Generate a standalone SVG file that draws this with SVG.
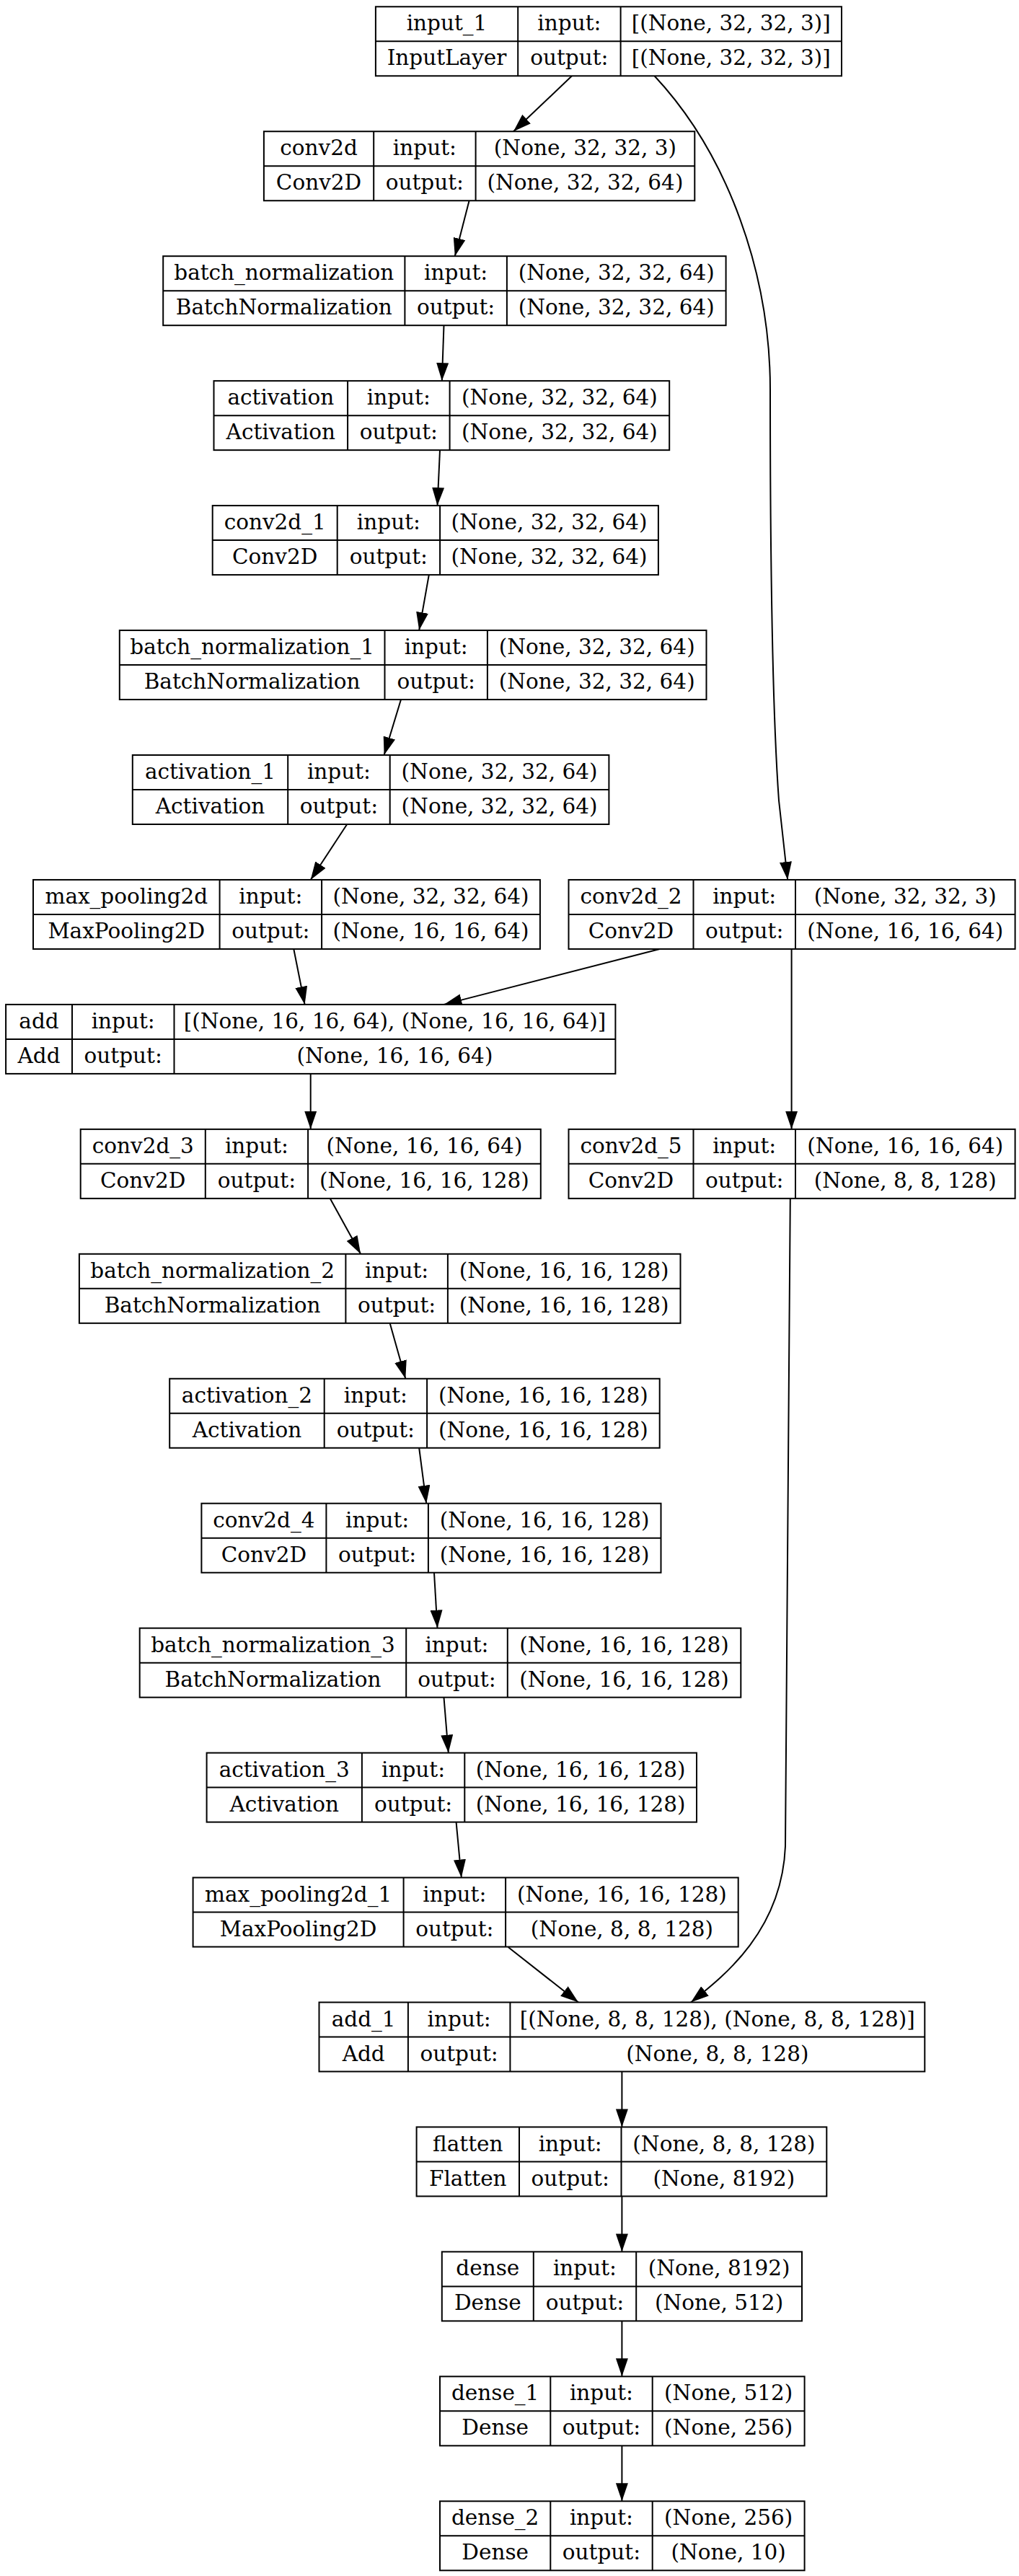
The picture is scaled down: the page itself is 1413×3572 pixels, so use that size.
<svg xmlns="http://www.w3.org/2000/svg" width="1413" height="3572" viewBox="0 0 1413 3572">
<style>
.b{fill:#fff;stroke:#000;stroke-width:2}
.l{stroke:#000;stroke-width:2;fill:none}
text{font-family:"DejaVu Serif","Liberation Serif",serif;font-size:29.5px;text-anchor:middle;fill:#000}
.e{fill:none;stroke:#000;stroke-width:2;marker-end:url(#ah)}
</style>
<defs>
<marker id="ah" markerUnits="userSpaceOnUse" viewBox="0 0 25 17" refX="25" refY="8.5" markerWidth="25" markerHeight="17" orient="auto">
<path d="M0,0 L25,8.5 L0,17 z" fill="#000"/>
</marker>
</defs>
<rect width="1413" height="3572" fill="#fff"/>
<g id="connectors">
<path class="e" d="M793,105.3 L712,182.3"/>
<path class="e" d="M907.5,105.3 C1010,215 1068,380 1068,540 C1068,800 1072,1000 1080,1110 L1092.2,1220"/>
<path class="e" d="M650.6,278.3 L630.8,355.2"/>
<path class="e" d="M615.5,451.2 L612.8,528.2"/>
<path class="e" d="M610,624.2 L606.5,701.1"/>
<path class="e" d="M594.8,797.1 L581.2,874"/>
<path class="e" d="M556,970 L532.6,1047"/>
<path class="e" d="M481.2,1143 L430.7,1220"/>
<path class="e" d="M407.3,1316 L422.6,1392.9"/>
<path class="e" d="M914.7,1316 L615.5,1392.9"/>
<path class="e" d="M1097.6,1316 L1097.6,1565.8"/>
<path class="e" d="M430.7,1489 L430.7,1565.8"/>
<path class="e" d="M457.8,1662 L500.1,1738.8"/>
<path class="e" d="M540.7,1835 L562.3,1911.7"/>
<path class="e" d="M581.2,2008 L591.2,2084.7"/>
<path class="e" d="M602,2181 L606.5,2257.6"/>
<path class="e" d="M615.5,2354 L621.8,2430.6"/>
<path class="e" d="M632.6,2527 L639.8,2603.5"/>
<path class="e" d="M704.7,2700 L802,2776.5"/>
<path class="e" d="M1095.8,1662 C1095,2100 1093,2400 1089,2560 C1084,2680 1000,2743 958,2776.5"/>
<path class="e" d="M862.4,2872.5 L862.4,2949.4"/>
<path class="e" d="M862.4,3045.5 L862.4,3122.4"/>
<path class="e" d="M862.4,3218.4 L862.4,3295.3"/>
<path class="e" d="M862.4,3391.4 L862.4,3468.3"/>
</g>
<g id="input_1">
<rect class="b" x="520.9" y="9.3" width="646.1" height="96"/>
<path class="l" d="M520.9,57.3H1167M718.2,9.3V105.3M860.6,9.3V105.3"/>
<text x="619.55" y="42">input_1</text><text x="619.55" y="90">InputLayer</text>
<text x="789.4" y="42">input:</text><text x="789.4" y="90">output:</text>
<text x="1013.8" y="42">[(None, 32, 32, 3)]</text><text x="1013.8" y="90">[(None, 32, 32, 3)]</text>
</g>
<g id="conv2d">
<rect class="b" x="365.9" y="182.25" width="597.4" height="96"/>
<path class="l" d="M365.9,230.25H963.3M518.2,182.25V278.25M659.6,182.25V278.25"/>
<text x="442.05" y="215">conv2d</text><text x="442.05" y="263">Conv2D</text>
<text x="588.9" y="215">input:</text><text x="588.9" y="263">output:</text>
<text x="811.45" y="215">(None, 32, 32, 3)</text><text x="811.45" y="263">(None, 32, 32, 64)</text>
</g>
<g id="batch_normalization">
<rect class="b" x="226.2" y="355.2" width="780.4" height="96"/>
<path class="l" d="M226.2,403.2H1006.6M561.4,355.2V451.2M702.9,355.2V451.2"/>
<text x="393.8" y="388">batch_normalization</text><text x="393.8" y="436">BatchNormalization</text>
<text x="632.15" y="388">input:</text><text x="632.15" y="436">output:</text>
<text x="854.75" y="388">(None, 32, 32, 64)</text><text x="854.75" y="436">(None, 32, 32, 64)</text>
</g>
<g id="activation">
<rect class="b" x="296.5" y="528.15" width="631.7" height="96"/>
<path class="l" d="M296.5,576.15H928.2M482.1,528.15V624.15M623.6,528.15V624.15"/>
<text x="389.3" y="561">activation</text><text x="389.3" y="609">Activation</text>
<text x="552.85" y="561">input:</text><text x="552.85" y="609">output:</text>
<text x="775.9" y="561">(None, 32, 32, 64)</text><text x="775.9" y="609">(None, 32, 32, 64)</text>
</g>
<g id="conv2d_1">
<rect class="b" x="294.7" y="701.1" width="618.2" height="96"/>
<path class="l" d="M294.7,749.1H912.9M467.7,701.1V797.1M610.1,701.1V797.1"/>
<text x="381.2" y="734">conv2d_1</text><text x="381.2" y="782">Conv2D</text>
<text x="538.9" y="734">input:</text><text x="538.9" y="782">output:</text>
<text x="761.5" y="734">(None, 32, 32, 64)</text><text x="761.5" y="782">(None, 32, 32, 64)</text>
</g>
<g id="batch_normalization_1">
<rect class="b" x="165.8" y="874.05" width="813.7" height="96"/>
<path class="l" d="M165.8,922.05H979.5M533.5,874.05V970.05M675.9,874.05V970.05"/>
<text x="349.65" y="907">batch_normalization_1</text><text x="349.65" y="955">BatchNormalization</text>
<text x="604.7" y="907">input:</text><text x="604.7" y="955">output:</text>
<text x="827.7" y="907">(None, 32, 32, 64)</text><text x="827.7" y="955">(None, 32, 32, 64)</text>
</g>
<g id="activation_1">
<rect class="b" x="183.8" y="1047" width="660.6" height="96"/>
<path class="l" d="M183.8,1095H844.4M399.2,1047V1143M540.7,1047V1143"/>
<text x="291.5" y="1080">activation_1</text><text x="291.5" y="1128">Activation</text>
<text x="469.95" y="1080">input:</text><text x="469.95" y="1128">output:</text>
<text x="692.55" y="1080">(None, 32, 32, 64)</text><text x="692.55" y="1128">(None, 32, 32, 64)</text>
</g>
<g id="max_pooling2d">
<rect class="b" x="46" y="1219.95" width="702.9" height="96"/>
<path class="l" d="M46,1267.95H748.9M304.6,1219.95V1315.95M446.1,1219.95V1315.95"/>
<text x="175.3" y="1253">max_pooling2d</text><text x="175.3" y="1301">MaxPooling2D</text>
<text x="375.35" y="1253">input:</text><text x="375.35" y="1301">output:</text>
<text x="597.5" y="1253">(None, 32, 32, 64)</text><text x="597.5" y="1301">(None, 16, 16, 64)</text>
</g>
<g id="conv2d_2">
<rect class="b" x="788.5" y="1219.95" width="619.1" height="96"/>
<path class="l" d="M788.5,1267.95H1407.6M961.5,1219.95V1315.95M1103,1219.95V1315.95"/>
<text x="875" y="1253">conv2d_2</text><text x="875" y="1301">Conv2D</text>
<text x="1032.25" y="1253">input:</text><text x="1032.25" y="1301">output:</text>
<text x="1255.3" y="1253">(None, 32, 32, 3)</text><text x="1255.3" y="1301">(None, 16, 16, 64)</text>
</g>
<g id="add">
<rect class="b" x="8.1" y="1392.9" width="845.3" height="96"/>
<path class="l" d="M8.1,1440.9H853.4M100,1392.9V1488.9M241.5,1392.9V1488.9"/>
<text x="54.05" y="1426">add</text><text x="54.05" y="1474">Add</text>
<text x="170.75" y="1426">input:</text><text x="170.75" y="1474">output:</text>
<text x="547.45" y="1426">[(None, 16, 16, 64), (None, 16, 16, 64)]</text><text x="547.45" y="1474">(None, 16, 16, 64)</text>
</g>
<g id="conv2d_3">
<rect class="b" x="111.7" y="1565.85" width="638.1" height="96"/>
<path class="l" d="M111.7,1613.85H749.8M284.8,1565.85V1661.85M427.1,1565.85V1661.85"/>
<text x="198.25" y="1599">conv2d_3</text><text x="198.25" y="1647">Conv2D</text>
<text x="355.95" y="1599">input:</text><text x="355.95" y="1647">output:</text>
<text x="588.45" y="1599">(None, 16, 16, 64)</text><text x="588.45" y="1647">(None, 16, 16, 128)</text>
</g>
<g id="conv2d_5">
<rect class="b" x="788.5" y="1565.85" width="619.1" height="96"/>
<path class="l" d="M788.5,1613.85H1407.6M961.5,1565.85V1661.85M1103,1565.85V1661.85"/>
<text x="875" y="1599">conv2d_5</text><text x="875" y="1647">Conv2D</text>
<text x="1032.25" y="1599">input:</text><text x="1032.25" y="1647">output:</text>
<text x="1255.3" y="1599">(None, 16, 16, 64)</text><text x="1255.3" y="1647">(None, 8, 8, 128)</text>
</g>
<g id="batch_normalization_2">
<rect class="b" x="109.9" y="1738.8" width="833.6" height="96"/>
<path class="l" d="M109.9,1786.8H943.5M479.4,1738.8V1834.8M620.9,1738.8V1834.8"/>
<text x="294.65" y="1772">batch_normalization_2</text><text x="294.65" y="1820">BatchNormalization</text>
<text x="550.15" y="1772">input:</text><text x="550.15" y="1820">output:</text>
<text x="782.2" y="1772">(None, 16, 16, 128)</text><text x="782.2" y="1820">(None, 16, 16, 128)</text>
</g>
<g id="activation_2">
<rect class="b" x="235.2" y="1911.75" width="679.5" height="96"/>
<path class="l" d="M235.2,1959.75H914.7M449.7,1911.75V2007.75M592.1,1911.75V2007.75"/>
<text x="342.45" y="1945">activation_2</text><text x="342.45" y="1993">Activation</text>
<text x="520.9" y="1945">input:</text><text x="520.9" y="1993">output:</text>
<text x="753.4" y="1945">(None, 16, 16, 128)</text><text x="753.4" y="1993">(None, 16, 16, 128)</text>
</g>
<g id="conv2d_4">
<rect class="b" x="279.4" y="2084.7" width="637.1" height="96"/>
<path class="l" d="M279.4,2132.7H916.5M452.4,2084.7V2180.7M593.9,2084.7V2180.7"/>
<text x="365.9" y="2117.7">conv2d_4</text><text x="365.9" y="2165.7">Conv2D</text>
<text x="523.15" y="2117.7">input:</text><text x="523.15" y="2165.7">output:</text>
<text x="755.2" y="2117.7">(None, 16, 16, 128)</text><text x="755.2" y="2165.7">(None, 16, 16, 128)</text>
</g>
<g id="batch_normalization_3">
<rect class="b" x="193.7" y="2257.65" width="833.6" height="96"/>
<path class="l" d="M193.7,2305.65H1027.3M563.2,2257.65V2353.65M703.8,2257.65V2353.65"/>
<text x="378.45" y="2290.7">batch_normalization_3</text><text x="378.45" y="2338.7">BatchNormalization</text>
<text x="633.5" y="2290.7">input:</text><text x="633.5" y="2338.7">output:</text>
<text x="865.55" y="2290.7">(None, 16, 16, 128)</text><text x="865.55" y="2338.7">(None, 16, 16, 128)</text>
</g>
<g id="activation_3">
<rect class="b" x="286.6" y="2430.6" width="679.4" height="96"/>
<path class="l" d="M286.6,2478.6H966M501.9,2430.6V2526.6M644.3,2430.6V2526.6"/>
<text x="394.25" y="2463.6">activation_3</text><text x="394.25" y="2511.6">Activation</text>
<text x="573.1" y="2463.6">input:</text><text x="573.1" y="2511.6">output:</text>
<text x="805.15" y="2463.6">(None, 16, 16, 128)</text><text x="805.15" y="2511.6">(None, 16, 16, 128)</text>
</g>
<g id="max_pooling2d_1">
<rect class="b" x="267.6" y="2603.55" width="756.1" height="96"/>
<path class="l" d="M267.6,2651.55H1023.7M559.6,2603.55V2699.55M701.1,2603.55V2699.55"/>
<text x="413.6" y="2636.6">max_pooling2d_1</text><text x="413.6" y="2684.6">MaxPooling2D</text>
<text x="630.35" y="2636.6">input:</text><text x="630.35" y="2684.6">output:</text>
<text x="862.4" y="2636.6">(None, 16, 16, 128)</text><text x="862.4" y="2684.6">(None, 8, 8, 128)</text>
</g>
<g id="add_1">
<rect class="b" x="442.5" y="2776.5" width="839.8" height="96"/>
<path class="l" d="M442.5,2824.5H1282.3M565.9,2776.5V2872.5M707.4,2776.5V2872.5"/>
<text x="504.2" y="2809.5">add_1</text><text x="504.2" y="2857.5">Add</text>
<text x="636.65" y="2809.5">input:</text><text x="636.65" y="2857.5">output:</text>
<text x="994.85" y="2809.5">[(None, 8, 8, 128), (None, 8, 8, 128)]</text><text x="994.85" y="2857.5">(None, 8, 8, 128)</text>
</g>
<g id="flatten">
<rect class="b" x="577.6" y="2949.45" width="568.7" height="96"/>
<path class="l" d="M577.6,2997.45H1146.3M720,2949.45V3045.45M861.5,2949.45V3045.45"/>
<text x="648.8" y="2982.5">flatten</text><text x="648.8" y="3030.5">Flatten</text>
<text x="790.75" y="2982.5">input:</text><text x="790.75" y="3030.5">output:</text>
<text x="1003.9" y="2982.5">(None, 8, 8, 128)</text><text x="1003.9" y="3030.5">(None, 8192)</text>
</g>
<g id="dense">
<rect class="b" x="612.8" y="3122.4" width="499.2" height="96"/>
<path class="l" d="M612.8,3170.4H1112M739.8,3122.4V3218.4M882.2,3122.4V3218.4"/>
<text x="676.3" y="3155.4">dense</text><text x="676.3" y="3203.4">Dense</text>
<text x="811" y="3155.4">input:</text><text x="811" y="3203.4">output:</text>
<text x="997.1" y="3155.4">(None, 8192)</text><text x="997.1" y="3203.4">(None, 512)</text>
</g>
<g id="dense_1">
<rect class="b" x="610" y="3295.35" width="505.6" height="96"/>
<path class="l" d="M610,3343.35H1115.6M763.3,3295.35V3391.35M904.7,3295.35V3391.35"/>
<text x="686.65" y="3328.4">dense_1</text><text x="686.65" y="3376.4">Dense</text>
<text x="834" y="3328.4">input:</text><text x="834" y="3376.4">output:</text>
<text x="1010.15" y="3328.4">(None, 512)</text><text x="1010.15" y="3376.4">(None, 256)</text>
</g>
<g id="dense_2">
<rect class="b" x="610" y="3468.3" width="505.6" height="96"/>
<path class="l" d="M610,3516.3H1115.6M763.3,3468.3V3564.3M904.7,3468.3V3564.3"/>
<text x="686.65" y="3501.3">dense_2</text><text x="686.65" y="3549.3">Dense</text>
<text x="834" y="3501.3">input:</text><text x="834" y="3549.3">output:</text>
<text x="1010.15" y="3501.3">(None, 256)</text><text x="1010.15" y="3549.3">(None, 10)</text>
</g>
</svg>
